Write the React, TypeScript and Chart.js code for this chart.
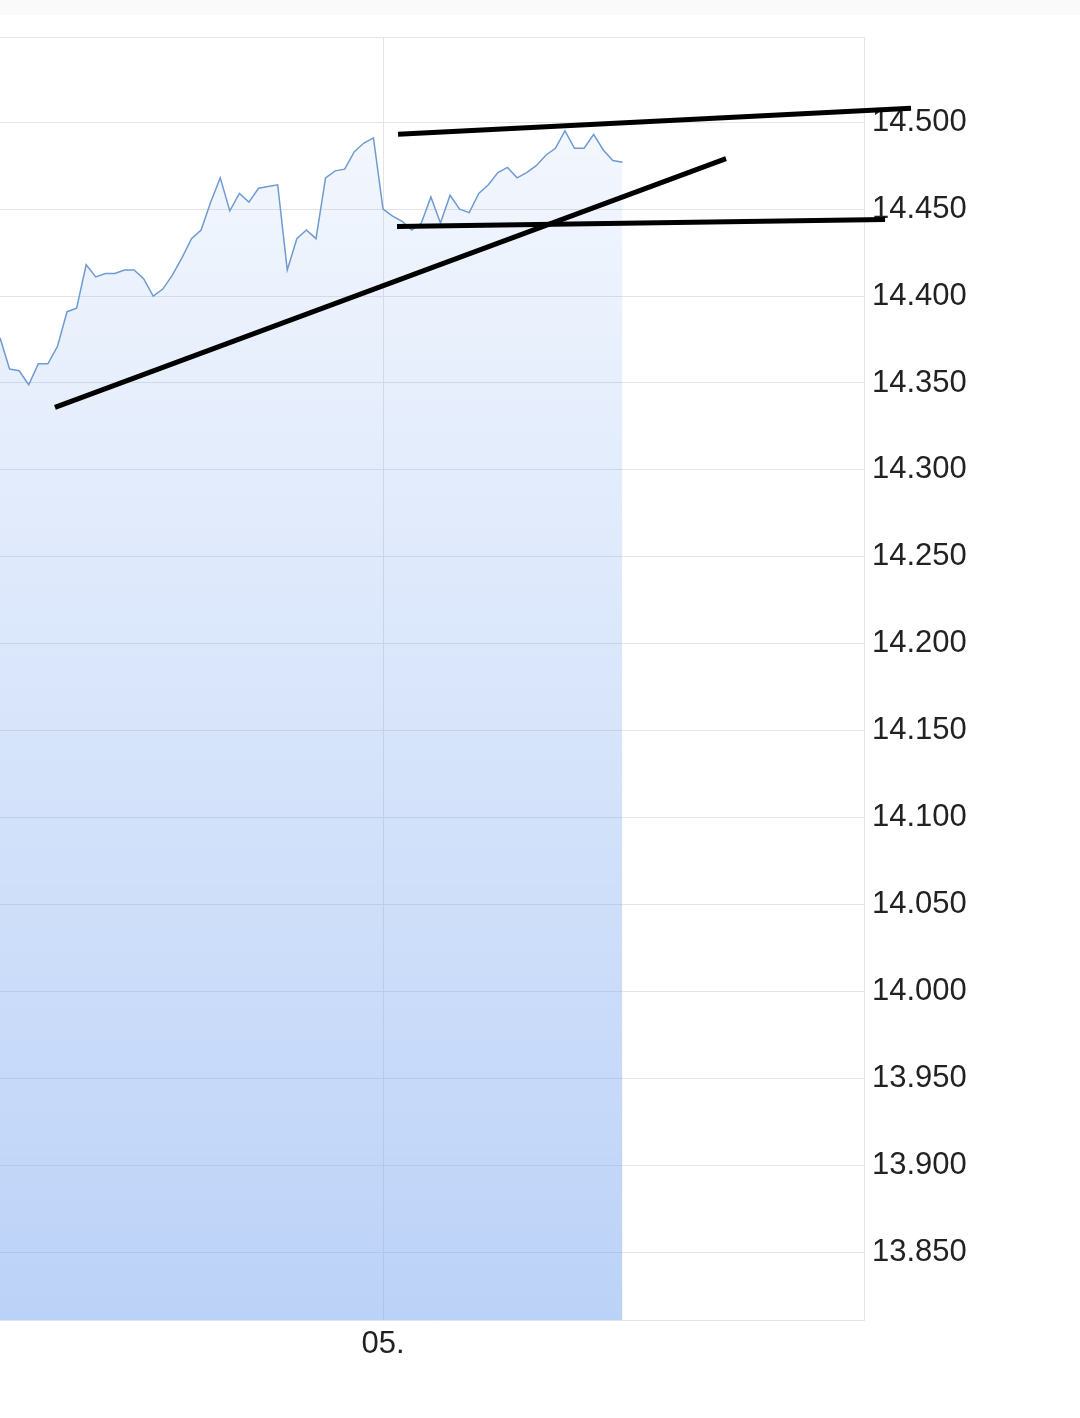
import React, { useEffect, useRef } from "react";
import { Chart, registerables } from "chart.js";

Chart.register(...registerables);

// index positions of the price points (one step per sample)
const xIndex: number[] = Array.from({ length: 66 }, (_, i) => i);
const prices: number[] = [
  14376, 14358, 14357, 14349, 14361, 14361, 14371, 14391, 14393, 14418,
  14411, 14413, 14413, 14415, 14415, 14410, 14400, 14404, 14412, 14422,
  14433, 14438, 14454, 14468, 14449, 14459, 14454, 14462, 14463, 14464,
  14415, 14433, 14438, 14433, 14468, 14472, 14473, 14483, 14488, 14491,
  14450, 14446, 14443, 14438, 14442, 14457, 14442, 14458, 14450, 14448,
  14459, 14464, 14471, 14474, 14468, 14471, 14475, 14481, 14485, 14495,
  14485, 14485, 14493, 14484, 14478, 14477,
];

// hand-drawn trend lines: [x start, x end], [y start, y end]
const upperX: number[] = [41.57, 95.14];
const upperY: number[] = [14493, 14508];
const lowerX: number[] = [41.46, 92.43];
const lowerY: number[] = [14440, 14444];
const riseX: number[] = [5.74, 75.82];
const riseY: number[] = [14336, 14479];

const xTickValues: number[] = [40];
const xTickLabels: string[] = ["05."];

const Y_MIN = 13811;
const Y_MAX = 14549;

const fmt = (v: number) => {
  const t = Math.floor(v / 1000);
  const r = Math.round(v - t * 1000);
  return `${t}.${String(r).padStart(3, "0")}`;
};

const pts = (xs: number[], ys: number[]) => xs.map((x, i) => ({ x, y: ys[i] }));

export default function App() {
  const ref = useRef<HTMLCanvasElement | null>(null);
  useEffect(() => {
    if (!ref.current) return;
    const frame = {
      id: "frame",
      beforeDatasetsDraw(chart: any) {
        const { ctx, chartArea } = chart;
        ctx.save();
        ctx.strokeStyle = "#e4e4e4";
        ctx.lineWidth = 1;
        ctx.beginPath();
        ctx.moveTo(chartArea.left, chartArea.top + 0.5);
        ctx.lineTo(chartArea.right, chartArea.top + 0.5);
        ctx.stroke();
        ctx.restore();
      },
    };
    const trend = (xs: number[], ys: number[]) => ({
      type: "line" as const,
      data: pts(xs, ys),
      borderColor: "#000000",
      borderWidth: 5,
      pointRadius: 0,
      fill: false,
      clip: false as any,
      order: 0,
      borderCapStyle: "butt" as const,
    });
    const chart = new Chart(ref.current, {
      type: "line",
      data: {
        datasets: [
          trend(upperX, upperY),
          trend(lowerX, lowerY),
          trend(riseX, riseY),
          {
            data: pts(xIndex, prices),
            borderColor: "#6f9bd2",
            borderWidth: 1.5,
            pointRadius: 0,
            tension: 0,
            fill: "start",
            order: 1,
            backgroundColor: (c: any) => {
              const area = c.chart.chartArea;
              if (!area) return "rgba(120,165,240,0.2)";
              const g = c.chart.ctx.createLinearGradient(0, area.top, 0, area.bottom);
              g.addColorStop(0, "rgba(120,165,240,0.06)");
              g.addColorStop(1, "rgba(120,165,240,0.5)");
              return g;
            },
          },
        ],
      },
      options: {
        animation: false,
        responsive: false,
        maintainAspectRatio: false,
        layout: { padding: { top: 37, left: 0, right: 0, bottom: 0 } },
        plugins: { legend: { display: false }, tooltip: { enabled: false } },
        scales: {
          x: {
            type: "linear",
            min: 0,
            max: 90.23,
            afterBuildTicks: (s: any) => {
              s.ticks = xTickValues.map((v) => ({ value: v }));
            },
            afterFit: (s: any) => {
              s.height = 98;
            },
            grid: { color: "#e4e4e4", drawTicks: false },
            border: { color: "#e4e4e4" },
            ticks: {
              padding: 6,
              color: "#222222",
              font: { family: "'Liberation Sans', Arial, sans-serif", size: 31 },
              maxRotation: 0,
              callback: (v: any) => {
                const i = xTickValues.indexOf(Number(v));
                return i >= 0 ? xTickLabels[i] : "";
              },
            },
          },
          y: {
            position: "right",
            min: Y_MIN,
            max: Y_MAX,
            afterBuildTicks: (s: any) => {
              const t: any[] = [];
              for (let v = 13850; v <= 14500; v += 50) t.push({ value: v });
              s.ticks = t;
            },
            afterFit: (s: any) => {
              s.width = 216;
            },
            grid: { color: "#e4e4e4", drawTicks: false },
            border: { color: "#e4e4e4" },
            ticks: {
              padding: 8,
              color: "#222222",
              font: { family: "'Liberation Sans', Arial, sans-serif", size: 31 },
              callback: (v: any) => fmt(Number(v)),
            },
          },
        },
      },
      plugins: [frame],
    });
    return () => chart.destroy();
  }, []);
  return (
    <div style={{ position: "absolute", left: 0, top: 0, width: 1080, height: 1418, background: "#ffffff" }}>
      <div style={{ position: "absolute", left: 0, top: 0, width: 1080, height: 15, background: "#fafafa" }} />
      <canvas ref={ref} width={1080} height={1418} style={{ position: "absolute", left: 0, top: 0, width: 1080, height: 1418 }} />
    </div>
  );
}
